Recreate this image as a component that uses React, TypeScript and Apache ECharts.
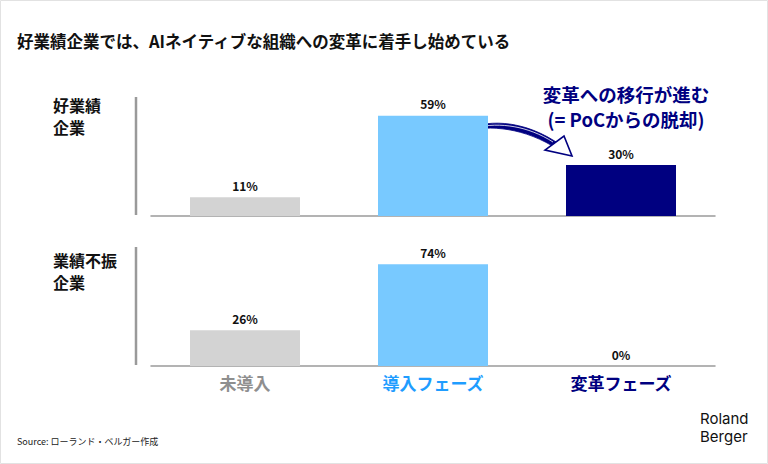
import React, { useEffect, useRef } from "react";
import * as echarts from "echarts";

// Phases of AI adoption
const categories = ["未導入", "導入フェーズ", "変革フェーズ"];
// Share of companies per phase (%)
const highPerformers = [11, 59, 30];
const lowPerformers = [26, 74, 0];

const barColors = ["#d3d3d3", "#78c9ff", "#000080"];
const labelColors = ["#8f8f8f", "#1f9dff", "#000080"];

const JP = '"Noto Sans CJK JP", "Noto Sans", sans-serif';
const NAVY = "#000080";

// curved swoosh from the adoption bar towards the transformation bar
const swooshPath =
  "M 464 131 C 482 120 522 117 562 146 L 559 150 C 524 127 490 125 464 131 Z";
echarts.graphic.registerShape("swoosh", echarts.graphic.extendPath(swooshPath, {}) as any);

export default function App() {
  const ref = useRef<HTMLDivElement>(null);

  useEffect(() => {
    if (!ref.current) return;
    const chart = echarts.init(ref.current, undefined, { renderer: "svg" });

    const barSeries = (values: number[], idx: number) => ({
      type: "bar",
      xAxisIndex: idx,
      yAxisIndex: idx,
      barWidth: 110,
      data: values.map((v, i) => ({ value: v, itemStyle: { color: barColors[i] } })),
      label: {
        show: true,
        position: "top",
        distance: 6,
        formatter: "{c}%",
        fontFamily: JP,
        fontWeight: "bold",
        fontSize: 12,
        color: "#111",
      },
    });

    const rich: Record<string, any> = {};
    labelColors.forEach((c, i) => {
      rich["c" + i] = { color: c, fontFamily: JP, fontWeight: "bold", fontSize: 17 };
    });

    chart.setOption({
      animation: false,
      backgroundColor: "#fff",
      grid: [
        { left: 151, right: 53, top: 97, height: 119 },
        { left: 151, right: 53, top: 256, height: 110 },
      ],
      xAxis: [0, 1].map((i) => ({
        type: "category",
        gridIndex: i,
        data: categories,
        axisTick: { show: false },
        axisLine: { show: true, lineStyle: { color: "#9a9a9a", width: 1.5 } },
        axisLabel:
          i === 1
            ? {
                show: true,
                margin: 8,
                formatter: (v: string) => `{c${categories.indexOf(v)}|${v}}`,
                rich,
              }
            : { show: false },
      })),
      yAxis: [
        { type: "value", gridIndex: 0, min: 0, max: 70, show: false },
        { type: "value", gridIndex: 1, min: 0, max: 80, show: false },
      ],
      series: [barSeries(highPerformers, 0), barSeries(lowPerformers, 1)],
      graphic: [
        {
          type: "rect",
          shape: { x: 0.5, y: 0.5, width: 767, height: 463 },
          style: { fill: "none", stroke: "#e2e2e2", lineWidth: 1 },
          silent: true,
        },
        {
          type: "text",
          x: 17,
          y: 41,
          style: {
            text: "好業績企業では、AIネイティブな組織への変革に着手し始めている",
            fontFamily: JP,
            fontWeight: "bold",
            fontSize: 16.5,
            fill: "#111",
            verticalAlign: "middle",
          },
        },
        {
          type: "text",
          x: 53,
          y: 94,
          style: {
            text: "好業績\n企業",
            fontFamily: JP,
            fontWeight: "bold",
            fontSize: 16,
            lineHeight: 22,
            fill: "#111",
          },
        },
        {
          type: "text",
          x: 53,
          y: 249,
          style: {
            text: "業績不振\n企業",
            fontFamily: JP,
            fontWeight: "bold",
            fontSize: 16,
            lineHeight: 22,
            fill: "#111",
          },
        },
        {
          type: "line",
          shape: { x1: 136, y1: 97, x2: 136, y2: 215 },
          style: { stroke: "#9a9a9a", lineWidth: 2.5 },
        },
        {
          type: "line",
          shape: { x1: 136, y1: 247, x2: 136, y2: 365 },
          style: { stroke: "#9a9a9a", lineWidth: 2.5 },
        },
        {
          type: "text",
          x: 626,
          y: 81.5,
          style: {
            text: "変革への移行が進む\n(= PoCからの脱却)",
            fontFamily: JP,
            fontWeight: "bold",
            fontSize: 18.5,
            lineHeight: 25,
            fill: NAVY,
            align: "center",
          },
        },
        {
          type: "swoosh",
          x: 0,
          y: 0,
          style: { fill: NAVY, stroke: NAVY, lineWidth: 0.8 },
        },
        {
          type: "bezierCurve",
          shape: { x1: 476, y1: 127.5, cpx1: 500, cpy1: 122, cpx2: 528, cpy2: 126, x2: 553, y2: 142 },
          style: { stroke: "#fff", lineWidth: 0.8, fill: "none" },
        },
        {
          type: "polygon",
          shape: { points: [[572, 156], [545, 150], [564, 136]] },
          style: { fill: "#fff", stroke: NAVY, lineWidth: 1.6 },
        },
        {
          type: "text",
          x: 17,
          y: 441,
          style: {
            text: "Source: ローランド・ベルガー作成",
            fontFamily: JP,
            fontSize: 9,
            fill: "#222",
            verticalAlign: "middle",
          },
        },
        {
          type: "text",
          x: 700,
          y: 409,
          style: {
            text: "Roland\nBerger",
            fontFamily: "Inter, sans-serif",
            fontSize: 15,
            lineHeight: 18,
            fill: "#111",
          },
        },
      ],
    });

    return () => chart.dispose();
  }, []);

  return (
    <div
      ref={ref}
      style={{ position: "absolute", left: 0, top: 0, width: 768, height: 464 }}
    />
  );
}
